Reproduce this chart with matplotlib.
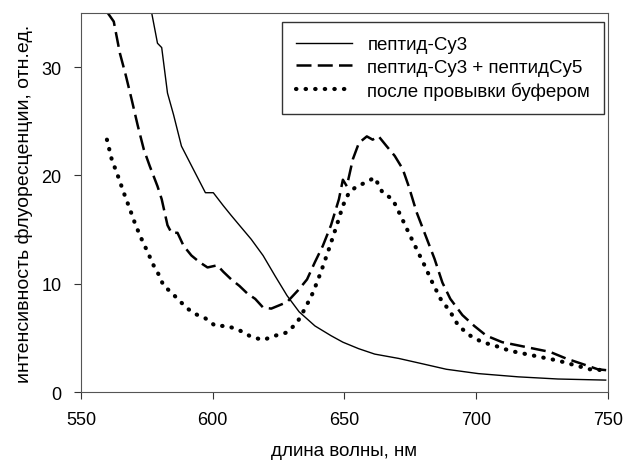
import matplotlib.pyplot as plt

plt.rcParams['font.family'] = ['Liberation Sans', 'DejaVu Sans']

# пептид-Cy3
x_cy3 = [576.8, 579.0, 580.6, 582.8, 585.1, 588.1, 591.9, 597.2, 600.2, 604.0,
         607.0, 610.1, 614.6, 619.1, 623.7, 628.2, 632.8, 638.8, 644.9, 649.4,
         655.4, 661.5, 670.6, 679.7, 688.7, 700.8, 716.0, 731.1, 749.2]
y_cy3 = [35.0, 32.2, 31.8, 27.6, 25.6, 22.7, 20.9, 18.4, 18.4, 17.2,
         16.3, 15.4, 14.1, 12.6, 10.7, 8.9, 7.4, 6.1, 5.2, 4.6,
         4.0, 3.5, 3.1, 2.6, 2.1, 1.7, 1.4, 1.2, 1.1]

# пептид-Cy3 + пептидCy5
x_cy35 = [560.1, 562.4, 564.7, 567.0, 569.2, 571.5, 573.8, 576.0, 579.0, 580.6,
          582.8, 584.3, 586.6, 588.9, 591.9, 594.9, 598.0, 601.7, 604.0, 607.0,
          610.1, 613.1, 616.1, 619.1, 622.2, 625.2, 628.2, 632.8, 635.8, 638.8,
          641.8, 644.9, 647.9, 649.4, 650.9, 653.2, 655.5, 658.5, 660.7, 663.0,
          666.0, 669.1, 672.1, 674.4, 677.4, 680.4, 684.2, 687.2, 690.2, 694.8,
          699.3, 703.9, 709.9, 716.0, 722.0, 728.1, 734.1, 740.2, 746.2, 750.0]
y_cy35 = [35.0, 34.2, 31.3, 29.2, 27.0, 24.6, 22.4, 20.9, 19.0, 17.8,
          15.4, 14.7, 14.7, 13.5, 12.6, 12.0, 11.5, 11.7, 11.1, 10.4,
          9.8, 9.1, 8.6, 7.8, 7.7, 8.0, 8.3, 9.5, 10.4, 12.0,
          13.5, 15.4, 17.8, 19.6, 19.0, 21.5, 23.0, 23.6, 23.3, 23.6,
          22.7, 21.8, 20.6, 19.0, 16.6, 14.7, 12.3, 10.1, 8.6, 7.1,
          6.1, 5.2, 4.6, 4.3, 4.0, 3.7, 3.1, 2.6, 2.1, 2.0]

# после провывки буфером
x_wash = [559.8, 561.6, 563.9, 566.2, 568.5, 570.7, 573.0, 575.3, 577.5, 579.8,
          581.3, 584.3, 586.6, 590.4, 593.4, 597.2, 601.0, 605.5, 610.1, 614.6,
          619.1, 623.7, 628.2, 632.0, 635.0, 638.1, 641.1, 644.1, 647.1, 649.4,
          651.7, 654.7, 657.7, 661.5, 664.5, 668.3, 671.3, 674.4, 677.4, 680.4,
          683.4, 686.5, 690.2, 693.3, 697.8, 702.3, 706.9, 712.9, 719.0, 725.0,
          731.1, 737.1, 743.2, 749.2]
y_wash = [23.3, 21.5, 20.0, 18.4, 16.9, 15.4, 14.1, 12.9, 11.7, 10.7,
          9.8, 9.2, 8.6, 7.7, 7.2, 6.8, 6.1, 6.1, 5.7, 5.1,
          4.8, 5.2, 5.5, 6.4, 7.7, 9.2, 11.1, 13.2, 15.4, 17.2,
          18.4, 19.0, 19.3, 19.8, 18.4, 17.8, 16.3, 14.7, 13.2, 11.7,
          10.1, 8.6, 7.4, 6.1, 5.2, 4.6, 4.3, 3.8, 3.5, 3.2,
          2.9, 2.5, 2.1, 2.0]

labels = ['пептид-Cy3', 'пептид-Cy3 + пептидCy5', 'после провывки буфером']

fig = plt.figure(figsize=(6.24, 4.64), dpi=100)
ax = fig.add_axes([0.13, 0.153, 0.844, 0.817])

ax.plot(x_cy3, y_cy3, color='black', linewidth=1.0, label=labels[0])
ax.plot(x_cy35, y_cy35, color='black', linewidth=1.8,
        linestyle=(0, (6, 2.5)), label=labels[1])
ax.plot(x_wash, y_wash, color='black', linewidth=3.0,
        linestyle=(0, (0.1, 2.2)), dash_capstyle='round', label=labels[2])

ax.set_xlim(550, 750)
ax.set_ylim(0, 35)
ax.set_xticks([550, 600, 650, 700, 750])
ax.set_yticks([0, 10, 20, 30])
ax.tick_params(labelsize=13, direction='out', length=5, color='#333333')
ax.tick_params(axis='x', pad=9)
ax.tick_params(axis='y', pad=9)
for s in ax.spines.values():
    s.set_color('#555555')

ax.set_xlabel('длина волны, нм', fontsize=13.5, labelpad=10)
ax.set_ylabel('интенсивность флуоресценции, отн.ед.', fontsize=14, labelpad=6)

leg = ax.legend(loc='upper right', bbox_to_anchor=(0.993, 0.976), fontsize=13.5,
                fancybox=False, framealpha=1, edgecolor='#333333',
                handlelength=3.0, handletextpad=0.8, borderpad=0.75,
                labelspacing=0.3, borderaxespad=0)
leg.get_frame().set_linewidth(1.0)

fig.savefig('out.png', dpi=100)
